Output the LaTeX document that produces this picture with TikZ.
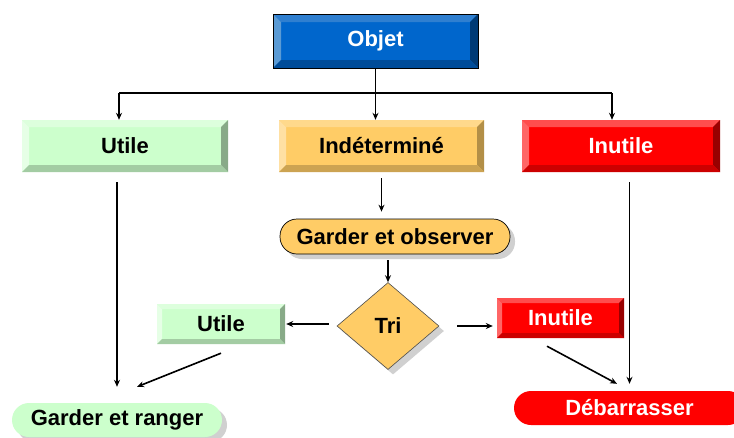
\documentclass[tikz,border=0pt]{standalone}
\usepackage{fontspec}
\setmainfont{Liberation Sans}
\usetikzlibrary{shapes.geometric,arrows.meta,shadows}
\definecolor{blueM}{HTML}{0066CC}
\definecolor{blueT}{HTML}{2F7FD0}
\definecolor{blueL}{HTML}{5B9BD5}
\definecolor{blueR}{HTML}{003A75}
\definecolor{blueB}{HTML}{004C99}
\definecolor{greenM}{HTML}{CCFFCC}
\definecolor{greenT}{HTML}{DDFFDD}
\definecolor{greenL}{HTML}{E6FFE6}
\definecolor{greenR}{HTML}{88AA88}
\definecolor{greenB}{HTML}{A3CCA3}
\definecolor{orM}{HTML}{FFCC66}
\definecolor{orT}{HTML}{FFD98C}
\definecolor{orL}{HTML}{FFE0A3}
\definecolor{orR}{HTML}{B38F47}
\definecolor{orB}{HTML}{CCA352}
\definecolor{redM}{HTML}{FF0000}
\definecolor{redT}{HTML}{FF4D4D}
\definecolor{redL}{HTML}{FF6666}
\definecolor{redR}{HTML}{990000}
\definecolor{redB}{HTML}{CC0000}
\definecolor{shad}{HTML}{D0D0D0}
\tikzset{
  lbl/.style={font=\fontsize{22}{26}\selectfont\bfseries, inner sep=0pt},
  bev/.style n args={5}{path picture={
    \path (path picture bounding box.north west) coordinate (bNW)
          (path picture bounding box.north east) coordinate (bNE)
          (path picture bounding box.south west) coordinate (bSW)
          (path picture bounding box.south east) coordinate (bSE);
    \fill[#1] (bNW) -- (bNE) -- ([shift={(-#5,-#5)}]bNE) -- ([shift={(#5,-#5)}]bNW) -- cycle;
    \fill[#2] (bNW) -- ([shift={(#5,-#5)}]bNW) -- ([shift={(#5,#5)}]bSW) -- (bSW) -- cycle;
    \fill[#3] (bNE) -- ([shift={(-#5,-#5)}]bNE) -- ([shift={(-#5,#5)}]bSE) -- (bSE) -- cycle;
    \fill[#4] (bSW) -- ([shift={(#5,#5)}]bSW) -- ([shift={(-#5,#5)}]bSE) -- (bSE) -- cycle;
  }},
  bluebox/.style={lbl, rectangle, fill=blueM, draw=black, line width=0.8pt, text=white, bev={blueT}{blueL}{blueR}{blueB}{8pt}},
  greenbox/.style={lbl, rectangle, fill=greenM, text=black, bev={greenT}{greenL}{greenR}{greenB}{#1}},
  orbox/.style={lbl, rectangle, fill=orM, text=black, bev={orT}{orL}{orR}{orB}{7pt}},
  redbox/.style={lbl, rectangle, fill=redM, text=white, bev={redT}{redL}{redR}{redB}{#1}},
  pill/.style={lbl, rectangle, rounded corners=17pt},
  shd/.style={drop shadow={shadow xshift=5pt, shadow yshift=-5pt, fill=shad, opacity=1}},
  conn/.style={line width=1.6pt, -{Stealth[length=7pt,width=6pt]}},
  plain/.style={line width=1.6pt}
}
\begin{document}
\begin{tikzpicture}[x=1pt,y=-1pt]
\useasboundingbox (0,0) rectangle (734,437);

\node[bluebox, minimum width=205pt, minimum height=54pt] (objet) at (375.5,41) {Objet};
\node[greenbox=7pt, minimum width=206pt, minimum height=52pt] (utile) at (125,146) {Utile};
\node[orbox, minimum width=205pt, minimum height=52pt] (indet) at (381.5,146) {Indéterminé};
\node[redbox=7pt, minimum width=198pt, minimum height=52pt] (inutile) at (621,146) {Inutile};

\node[pill, shd, fill=orM, draw=black, line width=0.7pt, minimum width=230pt, minimum height=35pt] (geo) at (395,236.5) {Garder et observer};
\node[lbl, diamond, shd, aspect=1.17, fill=orM, draw=black!70, line width=0.6pt, minimum width=102pt, minimum height=87pt] (tri) at (388,326) {Tri};

\node[greenbox=5pt, minimum width=128pt, minimum height=40pt] (utile2) at (221,324) {Utile};
\node[redbox=5pt, minimum width=127pt, minimum height=40pt] (inutile2) at (560.5,318) {Inutile};

\node[pill, shd, fill=greenM, minimum width=210pt, minimum height=34pt] (ger) at (117,420) {Garder et ranger};
\node[pill, fill=redM, text=white, minimum width=231pt, minimum height=34pt] (deb) at (629.5,408) {Débarrasser};

% bus from Objet
\coordinate (busL) at (119,93);
\coordinate (busM) at (375.5,93);
\coordinate (busR) at (612,93);
\draw[plain] (objet.south) -- (busM);
\draw[plain] (busL) -- (busR);
\draw[conn] (busL) -- (busL |- utile.north);
\draw[conn] (busM) -- (busM |- indet.north);
\draw[conn] (busR) -- (busR |- inutile.north);

\draw[conn, shorten <=6pt, shorten >=7pt] (indet.south) -- (indet.south |- geo.north);
\draw[conn, shorten <=6pt, shorten >=0pt] (tri.north |- geo.south) -- (tri.north);
\draw[conn, shorten <=8pt, shorten >=1pt] (tri.west |- utile2.east) -- (utile2.east);
\draw[conn, shorten <=18pt, shorten >=4pt] (tri.east) -- (tri.east -| inutile2.west);

\draw[conn, shorten <=10pt, shorten >=16pt] (utile.south -| ger.north) -- (ger.north);
\draw[conn] ([yshift=-9pt]utile2.south) -- ([xshift=20pt,yshift=16pt]ger.north);
\draw[conn, shorten <=10pt, shorten >=7pt] (inutile.south -| deb.north) -- (deb.north);
\draw[conn] ([xshift=-13.5pt,yshift=-8pt]inutile2.south) -- ([xshift=-12.5pt,yshift=7pt]deb.north);
\end{tikzpicture}
\end{document}
